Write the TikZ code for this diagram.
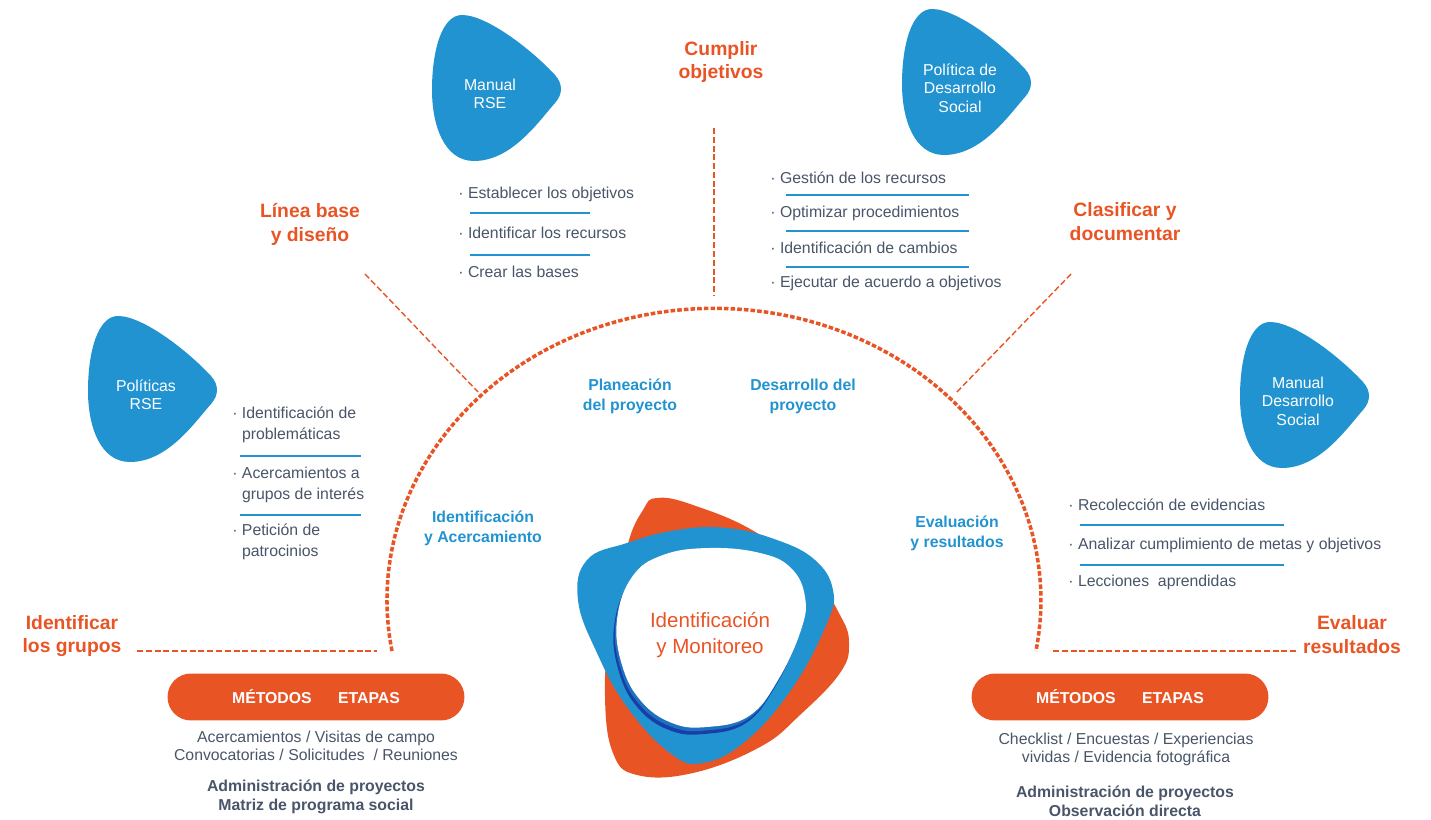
\documentclass[tikz,border=0pt]{standalone}
\usepackage{fontspec}
\setmainfont{Liberation Sans}
\usepackage{tikz}
\usetikzlibrary{positioning,calc}
\usepackage{xcolor}
\definecolor{col1}{RGB}{233,84,37}
\definecolor{col2}{RGB}{33,147,208}
\definecolor{col3}{RGB}{24,62,168}
\definecolor{col4}{RGB}{73,85,104}
\colorlet{c1}{col1}
\colorlet{c2}{col2}
\colorlet{c3}{col3}
\colorlet{c4}{col4}
\colorlet{c5}{col2!60!col3}

\begin{document}
\begin{tikzpicture}[x=0.02cm, y=-0.02cm, font=\fontsize{9}{11.9}\selectfont,
  pics/gota/.style={code={
    \fill[c2] (30,0) .. controls (55,0) and (100,35) .. (123,60)
      .. controls (131,69) and (131,79) .. (123,88)
      .. controls (107,106) and (80,146) .. (42,146)
      .. controls (12,146) and (0,110) .. (0,75)
      .. controls (0,35) and (10,0) .. (30,0) -- cycle;
    \node[gotatxt] (-txt) at (58,79) {#1};}}]
\tikzstyle{radio}=[draw=c1, line width=0.8pt, dash pattern=on 3.4pt off 1.6pt]
\tikzstyle{arco}=[draw=c1, line width=2pt, dash pattern=on 2.6pt off 1.2pt]
\tikzstyle{sep}=[draw=c2, line width=1.3pt]
\tikzstyle{titulo}=[text=c1, font=\fontsize{11}{13.6}\selectfont\bfseries, align=center]
\tikzstyle{etapa}=[text=c2, font=\fontsize{9}{11.3}\selectfont\bfseries, align=center]
\tikzstyle{item}=[text=c4, anchor=west, align=left, inner sep=0pt]
\tikzstyle{gotatxt}=[text=white, font=\fontsize{9}{10.5}\selectfont, align=center]
\tikzstyle{pastilla}=[fill=c1, text=white, font=\fontsize{9}{11}\selectfont\bfseries,
  minimum width=5.94cm, minimum height=0.94cm, rounded corners=0.47cm]
\tikzstyle{desc}=[text=c4, align=center, font=\fontsize{9}{10.3}\selectfont]
\tikzstyle{descb}=[text=c4, align=center, font=\fontsize{9}{10.8}\selectfont\bfseries]
\tikzstyle{centro}=[text=c1, font=\fontsize{11.7}{14.7}\selectfont, align=center]
\useasboundingbox (0,0) rectangle (1431,820);

% gotas azules
\pic (mrse) at (432,15) {gota={Manual\\RSE}};
\pic (pds) at (902,9) {gota={Política de\\Desarrollo\\Social}};
\pic (prse) at (88,316) {gota={Políticas\\RSE}};
\pic (mds) at (1240,322) {gota={Manual\\Desarrollo\\Social}};

% titulos naranjas
\node[titulo] (cumplir) at (721,62) {Cumplir\\objetivos};
\node[titulo] (lineabase) at (310,224) {Línea base\\y diseño};
\node[titulo] (clasificar) at (1125,222) {Clasificar y\\documentar};
\node[titulo] (identificar) at (72,636) {Identificar\\los grupos};
\node[titulo] (evaluar) at (1352,635) {Evaluar\\resultados};

% lineas punteadas
\coordinate (v1) at (714,128);  \coordinate (v2) at (714,295);
\coordinate (d1) at (365,274);  \coordinate (d2) at (478,392);
\coordinate (e1) at (1071,274); \coordinate (e2) at (956,393);
\coordinate (h1) at (137,651);  \coordinate (h2) at (377,651);
\coordinate (k1) at (1053,651); \coordinate (k2) at (1296,651);
\draw[radio] (v1) -- (v2);
\draw[radio] (d1) -- (d2);
\draw[radio] (e1) -- (e2);
\draw[radio] (h1) -- (h2);
\draw[radio] (k1) -- (k2);
\draw[arco] (392,651) arc[start angle=190, end angle=-10, x radius=6.54cm, y radius=5.84cm];

% etapas
\node[etapa] (planeacion) at (630,396) {Planeación\\del proyecto};
\node[etapa] (desarrollo) at (803,396) {Desarrollo del\\proyecto};
\node[etapa] (identacer) at (483,528) {Identificación\\y Acercamiento};
\node[etapa] (evalres) at (957,533) {Evaluación\\y resultados};

% listas
\node[item] (l1) at (458,194) {· Establecer los objetivos};
\node[item] (l2) at (458,233) {· Identificar los recursos};
\node[item] (l3) at (458,272) {· Crear las bases};
\draw[sep] (470,213) -- (590,213);
\draw[sep] (470,255) -- (590,255);

\node[item] (g1) at (770,178) {· Gestión de los recursos};
\node[item] (g2) at (770,213) {· Optimizar procedimientos};
\node[item] (g3) at (770,248) {· Identificación de cambios};
\node[item] (g4) at (770,283) {· Ejecutar de acuerdo a objetivos};
\draw[sep] (786,195) -- (969,195);
\draw[sep] (786,231) -- (969,231);
\draw[sep] (786,267) -- (969,267);

\node[item] (p1) at (232,425) {· Identificación de\\\hphantom{· }problemáticas};
\node[item] (p2) at (232,485) {· Acercamientos a\\\hphantom{· }grupos de interés};
\node[item] (p3) at (232,542) {· Petición de\\\hphantom{· }patrocinios};
\draw[sep] (240,456) -- (361,456);
\draw[sep] (240,515) -- (361,515);

\node[item] (r1) at (1068,505) {· Recolección de evidencias};
\node[item] (r2) at (1068,545) {· Analizar cumplimiento de metas y objetivos};
\node[item] (r3) at (1068,582) {· Lecciones\ \ aprendidas};
\draw[sep] (1080,525) -- (1284,525);
\draw[sep] (1080,565) -- (1284,565);

% figura central
\fill[c1] plot[smooth cycle, tension=0.7] coordinates {(657,498) (693,505) (757,533) (815,580)
  (840,615) (849,643) (840,673) (800,715) (760,747) (693,773) (637,775) (613,753) (605,697)
  (610,630) (627,547) (643,510)};
\fill[c2] plot[smooth cycle, tension=0.7] coordinates {(587,560) (627,543) (677,530) (727,528)
  (777,540) (815,560) (833,590) (827,623) (793,687) (747,740) (703,763) (670,753) (627,707)
  (597,653) (578,600)};
\fill[c3, shift={(-3,7)}] plot[smooth cycle, tension=0.7] coordinates {(632,577) (663,555)
  (710,548) (760,553) (791,568) (805,597) (801,630) (778,680) (749,716) (707,727) (672,723)
  (641,701) (622,665) (617,620)};
\fill[c5, shift={(-1.5,3.5)}] plot[smooth cycle, tension=0.7] coordinates {(632,577) (663,555)
  (710,548) (760,553) (791,568) (805,597) (801,630) (778,680) (749,716) (707,727) (672,723)
  (641,701) (622,665) (617,620)};
\fill[white] plot[smooth cycle, tension=0.7] coordinates {(632,577) (663,555)
  (710,548) (760,553) (791,568) (805,597) (801,630) (778,680) (749,716) (707,727) (672,723)
  (641,701) (622,665) (617,620)};
\node[centro] (monitoreo) at (710,635) {Identificación\\y Monitoreo};

% metodos y etapas
\node[pastilla] (metA) at (316,697) {MÉTODOS\hspace{15pt}ETAPAS};
\node[desc] (descA) at (316,746) {Acercamientos / Visitas de campo\\Convocatorias / Solicitudes\ \ / Reuniones};
\node[descb] (admA) at (316,797) {Administración de proyectos\\Matriz de programa social};

\node[pastilla] (metB) at (1120,697) {MÉTODOS\hspace{15pt}ETAPAS};
\node[desc] (descB) at (1126,749) {Checklist / Encuestas / Experiencias\\vividas / Evidencia fotográfica};
\node[descb] (admB) at (1125,801) {Administración de proyectos\\Observación directa};
\end{tikzpicture}
\end{document}
